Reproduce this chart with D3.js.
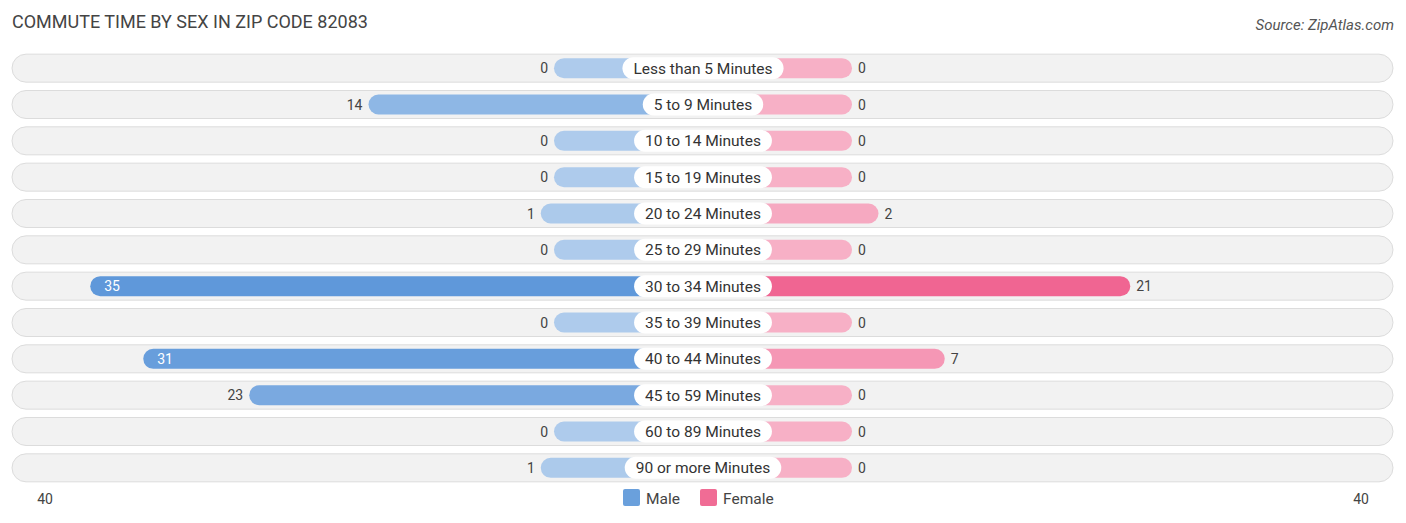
<!DOCTYPE html><html><head><meta charset="utf-8">
<script src="https://cdn.jsdelivr.net/npm/d3@7"></script>
<style>body{margin:0;background:#fff;font-family:Roboto,"Open Sans",sans-serif}</style></head><body>
<svg id="c" width="1406" height="523"></svg>
<script>
const categories=["Less than 5 Minutes","5 to 9 Minutes","10 to 14 Minutes","15 to 19 Minutes","20 to 24 Minutes","25 to 29 Minutes","30 to 34 Minutes","35 to 39 Minutes","40 to 44 Minutes","45 to 59 Minutes","60 to 89 Minutes","90 or more Minutes"];
const male=[0,14,0,0,1,0,35,0,31,23,0,1];
const female=[0,0,0,0,2,0,21,0,7,0,0,0];
const maxVal=40;
const svg=d3.select("#c");
const cx=703, minW=149;
const len=d3.scaleLinear().domain([0,maxVal]).range([minW,minW+530]);
const y=d3.scaleBand().domain(categories).range([50,486]).paddingInner(0);
const mc=d3.scaleLinear().domain([0,35]).range(["#aecbec","#5f98da"]);
const fc=d3.scaleLinear().domain([0,21]).range(["#f7b0c6","#f06592"]);
svg.append("text").attr("x",12).attr("y",28).attr("font-size",18).attr("fill","#444").text("COMMUTE TIME BY SEX IN ZIP CODE 82083");
svg.append("text").attr("x",1394).attr("y",30).attr("text-anchor","end").attr("font-size",15).attr("font-style","italic").attr("fill","#555").text("Source: ZipAtlas.com");
categories.forEach((c,i)=>{
 const yc=y(c)+y.bandwidth()/2;
 svg.append("rect").attr("x",12).attr("y",yc-14).attr("width",1381).attr("height",28).attr("rx",14).attr("fill","#f2f2f2").attr("stroke","#dcdcdc");
 const mw=len(male[i]), fw=len(female[i]);
 svg.append("rect").attr("x",cx-mw).attr("y",yc-10).attr("width",mw).attr("height",20).attr("rx",10).attr("fill",mc(male[i]));
 svg.append("rect").attr("x",cx).attr("y",yc-10).attr("width",fw).attr("height",20).attr("rx",10).attr("fill",fc(female[i]));
 const t=svg.append("text").attr("x",cx).attr("y",yc+5.5).attr("text-anchor","middle").attr("font-size",15.5).attr("fill","#333").text(c);
 const w=t.node().getComputedTextLength()+22;
 svg.insert("rect","text:last-of-type").attr("x",cx-w/2).attr("y",yc-11).attr("width",w).attr("height",22).attr("rx",11).attr("fill","#fff");
 t.raise();
 const inside=male[i]>=30;
 svg.append("text").attr("x",inside?cx-mw+14:cx-mw-6).attr("y",yc+5).attr("text-anchor",inside?"start":"end").attr("font-size",14).attr("fill",inside?"#fff":"#444").text(male[i]);
 svg.append("text").attr("x",cx+fw+6).attr("y",yc+5).attr("font-size",14).attr("fill","#444").text(female[i]);
});
svg.append("text").attr("x",45).attr("y",504).attr("text-anchor","middle").attr("font-size",14).attr("fill","#444").text(maxVal);
svg.append("text").attr("x",1361).attr("y",504).attr("text-anchor","middle").attr("font-size",14).attr("fill","#444").text(maxVal);
[["Male","#6aa0dc",623],["Female","#f06c95",700]].forEach(([n,col,x])=>{
 svg.append("rect").attr("x",x).attr("y",489).attr("width",17).attr("height",17).attr("rx",2).attr("fill",col);
 svg.append("text").attr("x",x+23).attr("y",504).attr("font-size",15.5).attr("fill","#444").text(n);
});
</script></body></html>
